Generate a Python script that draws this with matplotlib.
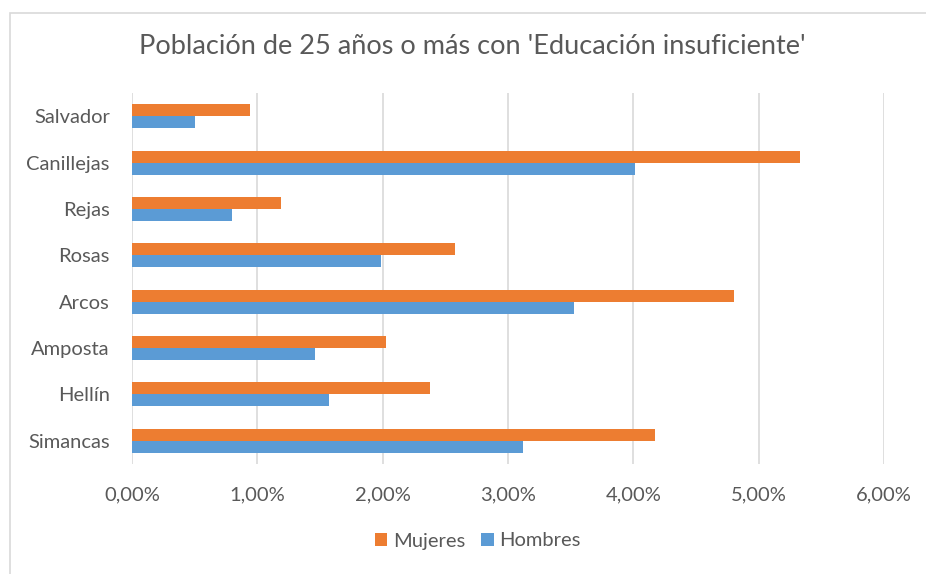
import numpy as np
import matplotlib.pyplot as plt
from matplotlib.patches import Rectangle
from matplotlib.ticker import FuncFormatter

# categories listed top to bottom as in the chart
barrios = ['Salvador', 'Canillejas', 'Rejas', 'Rosas', 'Arcos', 'Amposta', 'Hellín', 'Simancas']
mujeres = [0.94, 5.33, 1.19, 2.58, 4.80, 2.03, 2.38, 4.17]
hombres = [0.50, 4.01, 0.80, 1.99, 3.53, 1.46, 1.57, 3.12]

naranja = '#ED7D31'
azul = '#5B9BD5'
gris = '#595959'

plt.rcParams['font.family'] = ['Lato', 'DejaVu Sans']

fig = plt.figure(figsize=(9.26, 5.74), dpi=100)
# chart area frame (Excel style)
fig.patches.append(Rectangle((10 / 926, -0.1), 1.2, (574 - 13) / 574 + 0.1,
                             transform=fig.transFigure, fill=False,
                             edgecolor='#D9D9D9', linewidth=1.2))

ax = fig.add_axes([132 / 926, (574 - 464) / 574, 752 / 926, 371 / 574])

y = np.arange(len(barrios))[::-1]
h = 0.26
ax.barh(y + h / 2, mujeres, height=h, color=naranja, label='Mujeres', zorder=3)
ax.barh(y - h / 2, hombres, height=h, color=azul, label='Hombres', zorder=3)

ax.set_xlim(0, 6)
ax.set_ylim(-0.5, len(barrios) - 0.5)
ax.set_xticks(np.arange(0, 7, 1))
ax.xaxis.set_major_formatter(FuncFormatter(lambda v, p: f'{v:.2f}%'.replace('.', ',')))
ax.set_yticks(y)
ax.set_yticklabels(barrios)
ax.grid(axis='x', color='#D9D9D9', linewidth=1.2, zorder=0)
for s in ax.spines.values():
    s.set_visible(False)
ax.tick_params(axis='both', length=0, labelcolor=gris, labelsize=14.5)
ax.tick_params(axis='x', pad=16)
ax.tick_params(axis='y', pad=16)

fig.text(472 / 926, 1 - 46 / 574, "Población de 25 años o más con 'Educación insuficiente'",
         ha='center', va='center', fontsize=19.5, color=gris)

fig.legend(loc='center', bbox_to_anchor=(478 / 926, 1 - 541 / 574), ncol=2,
           frameon=False, fontsize=14.5, labelcolor=gris, handlelength=0.6,
           handleheight=0.6, handletextpad=0.3, columnspacing=0.8)

fig.savefig('out.png', dpi=100)
